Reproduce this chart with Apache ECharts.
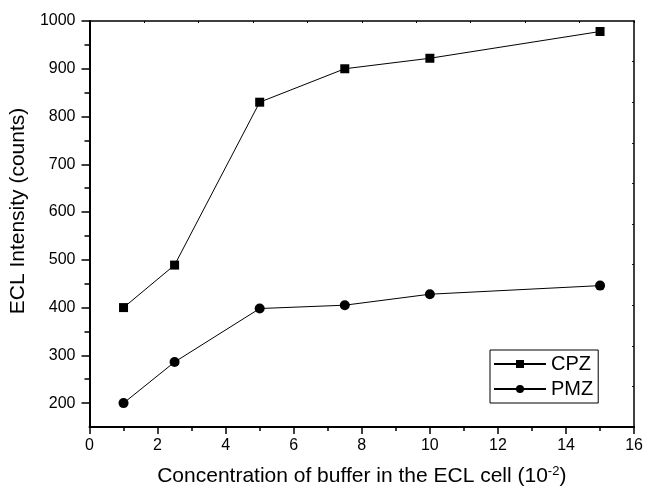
<!DOCTYPE html>
<html>
<head>
<meta charset="utf-8">
<script src="https://cdn.jsdelivr.net/npm/echarts@6/dist/echarts.min.js"></script>
<style>
html,body{margin:0;padding:0;background:#fff;}
#chart{width:646px;height:492px;}
</style>
</head>
<body>
<div id="chart"></div>
<script>
const concentration = [1, 2.5, 5, 7.5, 10, 15];
const cpz = [400, 489, 830, 900, 922, 978];
const pmz = [200, 286, 398, 405, 428, 446];
const yLabelTicks = [200, 300, 400, 500, 600, 700, 800, 900, 1000];
const yMinorTicks = [250, 350, 450, 550, 650, 750, 850, 950];
const rightTicks = [235, 320, 405, 490, 575, 660, 745, 830, 915];

const FONT = '"Liberation Sans", Arial, sans-serif';
const chart = echarts.init(document.getElementById('chart'), null, {renderer: 'canvas'});

const pairs = (xs, ys) => xs.map((x, i) => [x, ys[i]]);
const plain = v => String(v);

chart.setOption({
  backgroundColor: '#fff',
  animation: false,
  textStyle: {fontFamily: FONT, color: '#000'},
  grid: {left: 82, right: 9, top: 21, bottom: 60, containLabel: false},
  legend: {
    orient: 'vertical',
    left: 490, top: 350,
    borderColor: '#000', borderWidth: 1, borderRadius: 0,
    padding: [4, 5, 4, 3],
    itemWidth: 52, itemHeight: 10, itemGap: 5,
    textStyle: {fontSize: 20, fontFamily: FONT, color: '#000'},
    data: ['CPZ', 'PMZ']
  },
  xAxis: [{
    type: 'value', min: 0, max: 16, interval: 2, position: 'bottom',
    name: '{a|Concentration of buffer in the ECL cell (10}{s|-2}{a|)}',
    nameLocation: 'middle', nameGap: 38,
    nameTextStyle: {rich: {
      a: {fontSize: 21, fontFamily: FONT, color: '#000'},
      s: {fontSize: 13, fontFamily: FONT, color: '#000', verticalAlign: 'top', padding: [0, 0, 10, 0]}
    }},
    axisLine: {onZero: false, lineStyle: {color: '#000', width: 2}},
    axisTick: {inside: false, length: 7, lineStyle: {color: '#000', width: 1.5}},
    minorTick: {show: true, splitNumber: 2, length: 4, lineStyle: {color: '#000', width: 1.5}},
    axisLabel: {fontSize: 16, margin: 11, color: '#000', fontFamily: FONT, formatter: plain},
    splitLine: {show: false}
  }, {
    type: 'value', min: 0, max: 16, interval: 1.6, position: 'top',
    axisLine: {onZero: false, lineStyle: {color: '#000', width: 1.5}},
    axisTick: {inside: true, length: 2, lineStyle: {color: '#000', width: 1}},
    axisLabel: {show: false}, splitLine: {show: false}
  }],
  yAxis: [{
    type: 'value', min: 150, max: 1000, position: 'left',
    name: 'ECL Intensity (counts)', nameLocation: 'middle', nameGap: 32,
    nameTextStyle: {fontSize: 21, fontFamily: FONT, color: '#000', padding: [0, 0, 0, 26]},
    axisLine: {onZero: false, lineStyle: {color: '#000', width: 2}},
    axisTick: {inside: false, length: 8, customValues: yLabelTicks, lineStyle: {color: '#000', width: 1.5}},
    axisLabel: {fontSize: 16, margin: 14, color: '#000', fontFamily: FONT, customValues: yLabelTicks, formatter: plain},
    splitLine: {show: false}
  }, {
    type: 'value', min: 150, max: 1000, position: 'left',
    axisLine: {show: false},
    axisTick: {inside: false, length: 5, customValues: yMinorTicks, lineStyle: {color: '#000', width: 1.5}},
    axisLabel: {show: false}, splitLine: {show: false}
  }, {
    type: 'value', min: 150, max: 1000, position: 'right',
    axisLine: {onZero: false, lineStyle: {color: '#000', width: 1.5}},
    axisTick: {inside: true, length: 2, customValues: rightTicks, lineStyle: {color: '#000', width: 1}},
    axisLabel: {show: false}, splitLine: {show: false}
  }],
  series: [{
    name: 'CPZ', type: 'line', xAxisIndex: 0, yAxisIndex: 0,
    data: pairs(concentration, cpz),
    symbol: 'rect', symbolSize: 9,
    itemStyle: {color: '#000'},
    lineStyle: {color: '#000', width: 1}
  }, {
    name: 'PMZ', type: 'line', xAxisIndex: 0, yAxisIndex: 0,
    data: pairs(concentration, pmz),
    symbol: 'circle', symbolSize: 10,
    itemStyle: {color: '#000'},
    lineStyle: {color: '#000', width: 1}
  }]
});
</script>
</body>
</html>
